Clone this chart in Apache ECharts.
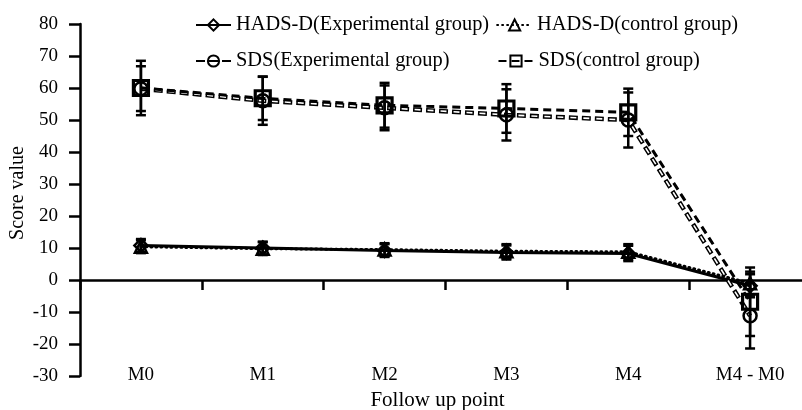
<!DOCTYPE html>
<html>
<head>
<meta charset="utf-8">
<script src="https://cdn.jsdelivr.net/npm/echarts@6/dist/echarts.min.js"></script>
<style>
html,body{margin:0;padding:0;background:#fff;}
#chart{width:802px;height:410px;}
</style>
</head>
<body>
<div id="chart"></div>
<script>
var categories = ['M0', 'M1', 'M2', 'M3', 'M4', 'M4 - M0'];
var yTicks = [-30, -20, -10, 0, 10, 20, 30, 40, 50, 60, 70, 80];

var hadsExpMean = [10.8, 10.0, 9.2, 8.6, 8.3, -1.8];
var hadsExpSD   = [2.0, 2.0, 2.0, 2.2, 2.4, 3.6];
var hadsCtrlMean = [10.4, 9.8, 9.5, 9.0, 8.8, -1.0];
var hadsCtrlSD   = [2.0, 2.0, 2.0, 2.2, 2.4, 3.6];
var sdsExpMean = [59.8, 56.0, 53.8, 51.6, 50.0, -11.2];
var sdsExpSD   = [7.0, 7.5, 7.0, 8.0, 8.6, 10.2];
var sdsCtrlMean = [60.0, 56.8, 54.6, 53.6, 52.4, -6.8];
var sdsCtrlSD   = [8.5, 6.8, 7.0, 7.6, 7.4, 10.7];

var FONT = '"Liberation Serif", "Times New Roman", serif';

function errData(mean, sd) {
  return mean.map(function (m, i) { return [i, m - sd[i], m + sd[i]]; });
}

function errSeries(mean, sd) {
  return {
    type: 'custom',
    silent: true,
    z: 5,
    xAxisIndex: 0,
    data: errData(mean, sd),
    renderItem: function (params, api) {
      var x = api.value(0);
      var lo = api.coord([x, api.value(1)]);
      var hi = api.coord([x, api.value(2)]);
      var hw = 5;
      var st = { stroke: '#000', lineWidth: 2.5 };
      return {
        type: 'group',
        children: [
          { type: 'line', shape: { x1: lo[0], y1: lo[1], x2: hi[0], y2: hi[1] }, style: st },
          { type: 'line', shape: { x1: lo[0] - hw, y1: lo[1], x2: lo[0] + hw, y2: lo[1] }, style: st },
          { type: 'line', shape: { x1: hi[0] - hw, y1: hi[1], x2: hi[0] + hw, y2: hi[1] }, style: st }
        ]
      };
    }
  };
}

var chart = echarts.init(document.getElementById('chart'), null, { renderer: 'canvas' });

var hollow = { color: 'rgba(0,0,0,0)', borderColor: '#000', borderWidth: 2.5 };

var option = {
  backgroundColor: '#fff',
  animation: false,
  textStyle: { fontFamily: FONT, color: '#000' },
  grid: { left: 80, right: -9, top: 24, bottom: 34, containLabel: false, outerBoundsMode: 'none' },
  legend: [
    {
      data: ['HADS-D(Experimental group)', 'HADS-D(control group)'],
      left: 190, top: 10, itemWidth: 35, itemHeight: 14, itemGap: 7,
      textStyle: { fontFamily: FONT, fontSize: 20.4, color: '#000' },
      selectedMode: false
    },
    {
      data: ['SDS(Experimental group)', 'SDS(control group)'],
      left: 190, top: 46, itemWidth: 35, itemHeight: 14, itemGap: 48,
      textStyle: { fontFamily: FONT, fontSize: 20.4, color: '#000' },
      selectedMode: false
    }
  ],
  xAxis: [
    {
      type: 'category',
      data: categories,
      boundaryGap: true,
      position: 'bottom',
      axisLine: { show: true, onZero: true, lineStyle: { color: '#000', width: 2.5 } },
      axisTick: { show: true, length: 10, lineStyle: { color: '#000', width: 2.5 } },
      axisLabel: { show: false },
      splitLine: { show: false }
    },
    {
      type: 'category',
      data: categories,
      boundaryGap: true,
      position: 'bottom',
      axisLine: { show: false, onZero: false },
      axisTick: { show: false },
      axisLabel: { show: true, margin: -10, fontFamily: FONT, fontSize: 19, color: '#000' },
      splitLine: { show: false },
      name: 'Follow up point',
      nameLocation: 'middle',
      nameGap: 14,
      nameMoveOverlap: false,
      nameTextStyle: { fontFamily: FONT, fontSize: 21, color: '#000', padding: [0, 16, 0, 0] }
    }
  ],
  yAxis: {
    type: 'value',
    min: yTicks[0],
    max: yTicks[yTicks.length - 1],
    interval: 10,
    axisLine: { show: true, lineStyle: { color: '#000', width: 2.5 } },
    axisTick: { show: true, length: 11, lineStyle: { color: '#000', width: 2.5 } },
    axisLabel: { margin: 22, fontFamily: FONT, fontSize: 19, color: '#000' },
    splitLine: { show: false },
    name: 'Score value',
    nameLocation: 'middle',
    nameGap: 52,
    nameMoveOverlap: false,
    nameTextStyle: { fontFamily: FONT, fontSize: 20, color: '#000', padding: [0, 0, 0, 14] }
  },
  series: [
    {
      name: 'HADS-D(Experimental group)', type: 'line', xAxisIndex: 0,
      data: hadsExpMean, symbol: 'diamond', symbolSize: 13,
      lineStyle: { color: '#000', width: 3 },
      itemStyle: hollow, z: 3
    },
    {
      name: 'HADS-D(control group)', type: 'line', xAxisIndex: 0,
      data: hadsCtrlMean, symbol: 'triangle', symbolSize: 12,
      lineStyle: { color: '#000', width: 3, type: [1, 4], cap: 'round' },
      itemStyle: hollow, z: 3
    },
    {
      name: 'SDS(Experimental group)', type: 'line', xAxisIndex: 0,
      data: sdsExpMean, symbol: 'circle', symbolSize: 13,
      lineStyle: { color: '#000', width: 4.5, type: [9, 4] },
      itemStyle: hollow, z: 3
    },
    {
      name: 'SDS-exp-inner', type: 'line', xAxisIndex: 0, silent: true,
      data: sdsExpMean, symbol: 'none',
      lineStyle: { color: '#fff', width: 1.6, type: [6, 7], dashOffset: -1.5 },
      z: 3
    },
    {
      name: 'SDS(control group)', type: 'line', xAxisIndex: 0,
      data: sdsCtrlMean, symbol: 'rect', symbolSize: 15,
      lineStyle: { color: '#000', width: 3, type: [8, 5] },
      itemStyle: { color: 'rgba(0,0,0,0)', borderColor: '#000', borderWidth: 3.2 }, z: 3
    },
    errSeries(hadsExpMean, hadsExpSD),
    errSeries(hadsCtrlMean, hadsCtrlSD),
    errSeries(sdsExpMean, sdsExpSD),
    errSeries(sdsCtrlMean, sdsCtrlSD)
  ]
};

chart.setOption(option);
</script>
</body>
</html>
